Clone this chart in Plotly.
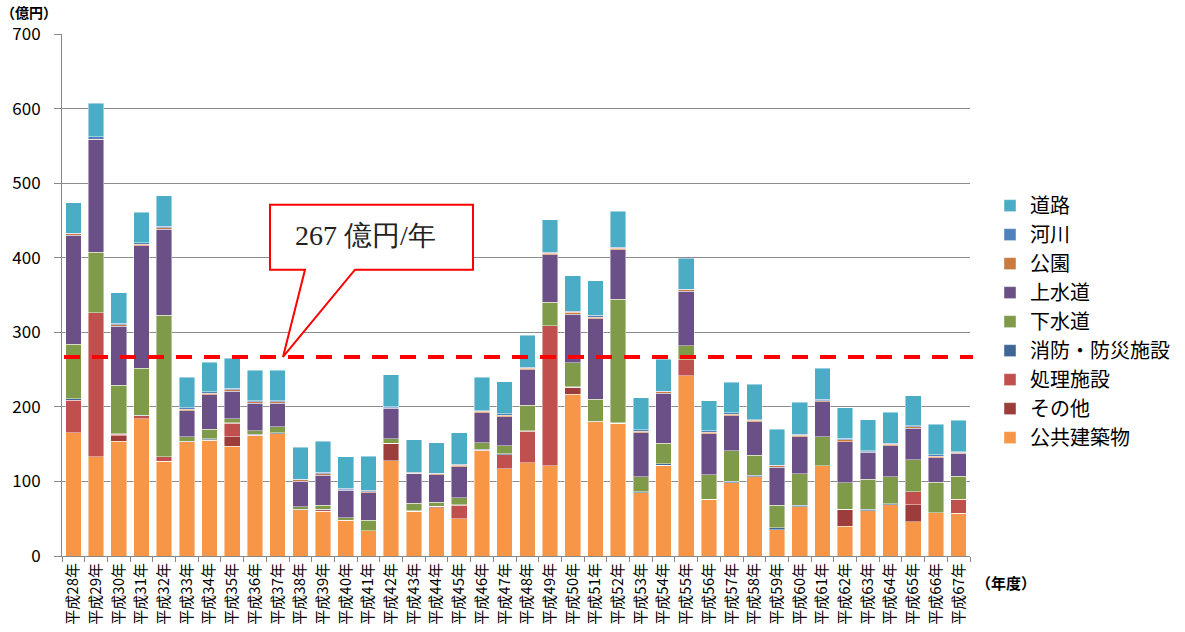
import plotly.graph_objects as go

# 年度 categories
years = [f"平成{n}年" for n in range(28, 68)]

# 更新費用 (億円) by facility type, stacked bottom -> top
public_buildings = [165, 133, 154, 184, 127, 153, 155, 147, 161, 164,
                    62, 60, 47, 34, 128, 60, 65, 50, 141, 117,
                    125, 121, 217, 180, 178, 85, 122, 242, 76, 98,
                    106, 35, 66, 121, 40, 61, 69, 46, 58, 57]
others = [0, 0, 7, 0, 0, 0, 0, 13, 0, 0,
          0, 0, 0, 0, 23, 0, 2, 0, 0, 0,
          0, 0, 9, 0, 0, 0, 0, 0, 0, 0,
          0, 0, 0, 0, 23, 0, 0, 23, 0, 0]
treatment = [44, 193, 2, 4, 6, 0, 1, 18, 1, 0,
             0, 2, 1, 0, 0, 0, 0, 18, 1, 19,
             42, 188, 0, 0, 0, 0, 0, 21, 0, 0,
             0, 0, 0, 0, 0, 0, 0, 17, 0, 19]
fire_disaster = [2, 0, 1, 1, 0, 1, 1, 1, 1, 1,
                 1, 1, 0, 0, 0, 1, 0, 1, 1, 1,
                 1, 0, 1, 1, 1, 1, 2, 0, 0, 2,
                 2, 3, 2, 0, 0, 2, 1, 0, 0, 0]
sewerage = [73, 81, 65, 63, 190, 6, 13, 5, 5, 8,
            3, 5, 3, 14, 6, 10, 5, 9, 9, 11,
            34, 31, 32, 29, 165, 20, 27, 19, 33, 41,
            27, 30, 42, 39, 35, 40, 36, 43, 41, 31]
water_supply = [146, 151, 79, 164, 115, 35, 46, 37, 37, 32,
                34, 40, 37, 37, 41, 39, 37, 42, 40, 39,
                48, 64, 65, 108, 67, 59, 67, 73, 55, 47,
                45, 51, 50, 47, 55, 36, 42, 42, 33, 31]
parks = [2, 1, 2, 2, 2, 2, 2, 2, 2, 2,
         2, 2, 1, 1, 1, 1, 1, 2, 2, 2,
         2, 2, 3, 2, 2, 2, 2, 2, 2, 2,
         2, 2, 2, 1, 3, 1, 2, 2, 2, 1]
rivers = [1, 3, 2, 2, 2, 2, 2, 2, 1, 1,
          1, 2, 2, 2, 1, 1, 1, 1, 1, 2,
          1, 1, 1, 3, 1, 2, 1, 1, 2, 2,
          1, 1, 1, 2, 2, 1, 1, 2, 2, 1]
roads = [41, 45, 41, 41, 41, 41, 40, 40, 41, 41,
         43, 42, 42, 46, 43, 44, 41, 42, 45, 43,
         43, 44, 48, 46, 48, 43, 43, 41, 40, 41,
         47, 48, 43, 42, 41, 42, 42, 40, 41, 42]

# 年平均更新費用 (億円/年)
annual_average = 267

series = [
    ("公共建築物", public_buildings, "#F79646"),
    ("その他", others, "#9C3D3B"),
    ("処理施設", treatment, "#C0504D"),
    ("消防・防災施設", fire_disaster, "#3E6797"),
    ("下水道", sewerage, "#7F9A48"),
    ("上水道", water_supply, "#6A5087"),
    ("公園", parks, "#CB7A3B"),
    ("河川", rivers, "#4F81BD"),
    ("道路", roads, "#4BACC6"),
]

FONT = "Noto Sans CJK JP, Noto Sans, sans-serif"

fig = go.Figure()
for name, values, color in series:
    fig.add_trace(go.Bar(
        x=years, y=values, name=name,
        marker=dict(color=color, line=dict(color="rgba(255,255,255,0.55)", width=0.8)),
    ))

# plot area in pixels -> paper helpers for the callout
L, R, T, B, W, H = 62, 215, 34, 76, 1185, 632
PW = W - L - R
def px(xp):
    return (xp - L) / PW

# dashed average line
fig.add_shape(type="line", xref="paper", yref="y",
              x0=px(64), x1=px(973), y0=annual_average, y1=annual_average,
              line=dict(color="#FF0000", width=4, dash="16px,12px"), layer="above")

# callout box with pointer to the average line
box_top, box_bottom = 471, 384
path = (f"M {px(270)},{box_top} L {px(473)},{box_top} L {px(473)},{box_bottom} "
        f"L {px(355)},{box_bottom} L {px(283)},{annual_average} L {px(305)},{box_bottom} "
        f"L {px(270)},{box_bottom} Z")
fig.add_shape(type="path", xref="paper", yref="y", path=path,
              fillcolor="white", line=dict(color="#FF0000", width=2), layer="above")
fig.add_annotation(xref="paper", yref="y", x=px(365), y=(box_top + box_bottom) / 2 + 2,
                   xanchor="center", yanchor="middle",
                   text=f"{annual_average} 億円/年", showarrow=False,
                   font=dict(family="Liberation Serif, DejaVu Serif, serif", size=28, color="#222"))

fig.add_annotation(xref="paper", yref="paper", x=px(-1), y=1.042, xanchor="left", yanchor="middle",
                   text="<b>（億円）</b>", showarrow=False,
                   font=dict(family=FONT, size=14, color="#000"))
fig.add_annotation(xref="paper", yref="paper", x=px(974), y=-0.05, xanchor="left", yanchor="middle",
                   text="<b>（年度）</b>", showarrow=False,
                   font=dict(family=FONT, size=15, color="#000"))

fig.update_layout(
    width=W, height=H, autosize=False,
    margin=dict(l=L, r=R, t=T, b=B, autoexpand=False),
    barmode="stack", bargap=0.31,
    plot_bgcolor="white", paper_bgcolor="white",
    font=dict(family=FONT, color="#000"),
    legend=dict(traceorder="reversed", x=px(990), xanchor="left", y=0.449, yanchor="middle",
                font=dict(size=20, family=FONT, color="#000"), itemwidth=30,
                bgcolor="rgba(0,0,0,0)"),
    showlegend=True,
)
fig.update_xaxes(
    type="category", tickangle=-90, tickfont=dict(size=15, family=FONT, color="#000"),
    showline=True, linecolor="#888", linewidth=1, automargin=False,
    ticks="outside", tickson="boundaries", ticklen=5, tickcolor="#888",
    showgrid=False,
)
fig.update_yaxes(
    range=[0, 700], dtick=100, tickfont=dict(size=17, family=FONT, color="#000"),
    showline=True, linecolor="#888", linewidth=1, automargin=False,
    showgrid=True, gridcolor="#8c8c8c", gridwidth=1,
    ticks="outside", ticklen=7, tickcolor="#888", ticklabelstandoff=10,
    zeroline=False,
)

fig.write_html("out.html")
